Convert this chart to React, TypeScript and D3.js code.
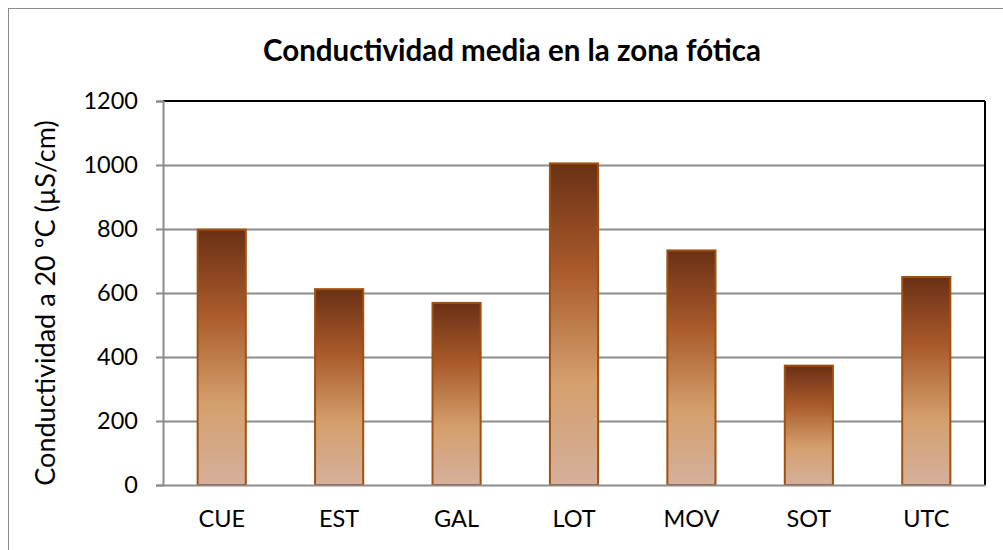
import React, { useEffect, useRef } from "react";
import * as d3 from "d3";

const categories = ["CUE", "EST", "GAL", "LOT", "MOV", "SOT", "UTC"];
const values = [798, 612, 569, 1005, 733, 373, 650];
const yTicks = [0, 200, 400, 600, 800, 1000, 1200];

const title = "Conductividad media en la zona fótica";
const yTitle = "Conductividad a 20 ºC (µS/cm)";

function App() {
  const svgRef = useRef<SVGSVGElement>(null);

  const width = 1003;
  const height = 550;
  const margin = { top: 101, right: 18, bottom: 65, left: 163 };
  const font = "Lato, 'Open Sans', sans-serif";

  useEffect(() => {
    const svg = d3.select(svgRef.current);
    svg.selectAll("*").remove();

    const defs = svg.append("defs");
    const grad = defs
      .append("linearGradient")
      .attr("id", "barGrad")
      .attr("x1", 0)
      .attr("y1", 0)
      .attr("x2", 0)
      .attr("y2", 1);
    grad.append("stop").attr("offset", "0%").attr("stop-color", "#6a3015");
    grad.append("stop").attr("offset", "33%").attr("stop-color", "#aa5a2b");
    grad.append("stop").attr("offset", "68%").attr("stop-color", "#d49f6c");
    grad.append("stop").attr("offset", "100%").attr("stop-color", "#d5b09c");

    // outer chart border
    svg
      .append("rect")
      .attr("x", 8.5)
      .attr("y", 8.5)
      .attr("width", width)
      .attr("height", height)
      .attr("fill", "#fff")
      .attr("stroke", "#8c8c8c")
      .attr("stroke-width", 1);

    const innerW = width - margin.left - margin.right;
    const innerH = height - margin.top - margin.bottom;

    const x = d3.scaleBand().domain(categories).range([0, innerW]).paddingInner(0.59).paddingOuter(0.295);
    const y = d3.scaleLinear().domain([0, 1200]).range([innerH, 0]);

    const g = svg.append("g").attr("transform", `translate(${margin.left},${margin.top})`);

    // gridlines
    g.selectAll(".grid")
      .data(yTicks.filter((t) => t > 0 && t < 1200))
      .join("line")
      .attr("x1", 0)
      .attr("x2", innerW)
      .attr("y1", (d) => Math.round(y(d)) + 0.5)
      .attr("y2", (d) => Math.round(y(d)) + 0.5)
      .attr("stroke", "#8c8c8c")
      .attr("stroke-width", 2);

    // top and right frame
    g.append("line")
      .attr("x1", 0)
      .attr("x2", innerW)
      .attr("y1", 0)
      .attr("y2", 0)
      .attr("stroke", "#000")
      .attr("stroke-width", 2);
    g.append("line")
      .attr("x1", innerW)
      .attr("x2", innerW)
      .attr("y1", 0)
      .attr("y2", innerH)
      .attr("stroke", "#000")
      .attr("stroke-width", 2);

    // bars
    g.selectAll(".bar")
      .data(values)
      .join("rect")
      .attr("x", (d, i) => x(categories[i])!)
      .attr("y", (d) => y(d))
      .attr("width", x.bandwidth())
      .attr("height", (d) => innerH - y(d))
      .attr("fill", "url(#barGrad)")
      .attr("stroke", "#a0500f")
      .attr("stroke-width", 2);

    // y axis
    const yAxis = d3
      .axisLeft(y)
      .tickValues(yTicks)
      .tickSize(7)
      .tickPadding(18)
      .tickFormat(d3.format("d"));
    const yg = g.append("g").call(yAxis);
    yg.select(".domain").attr("stroke", "#8c8c8c").attr("stroke-width", 2);
    yg.selectAll(".tick line").attr("stroke", "#8c8c8c").attr("stroke-width", 2);
    yg.selectAll("text")
      .attr("font-family", font)
      .attr("font-size", 23.5)
      .attr("fill", "#000");

    // x axis
    const xAxis = d3.axisBottom(x).tickSize(0).tickPadding(25);
    const xg = g.append("g").attr("transform", `translate(0,${innerH})`).call(xAxis);
    xg.select(".domain").attr("stroke", "#8c8c8c").attr("stroke-width", 2);
    xg.selectAll("text")
      .attr("font-family", font)
      .attr("font-size", 23.5)
      .attr("fill", "#000");

    // titles
    svg
      .append("text")
      .attr("x", 512)
      .attr("y", 61)
      .attr("text-anchor", "middle")
      .attr("font-family", font)
      .attr("font-weight", "bold")
      .attr("font-size", 29.5)
      .text(title);

    svg
      .append("text")
      .attr("transform", `translate(55,${margin.top + innerH / 2 + 10}) rotate(-90)`)
      .attr("text-anchor", "middle")
      .attr("font-family", font)
      .attr("font-size", 27)
      .text(yTitle);
  }, []);

  return (
    <svg
      ref={svgRef}
      width={width}
      height={height}
      style={{ position: "absolute", left: 0, top: 0 }}
    />
  );
}

export default App;
